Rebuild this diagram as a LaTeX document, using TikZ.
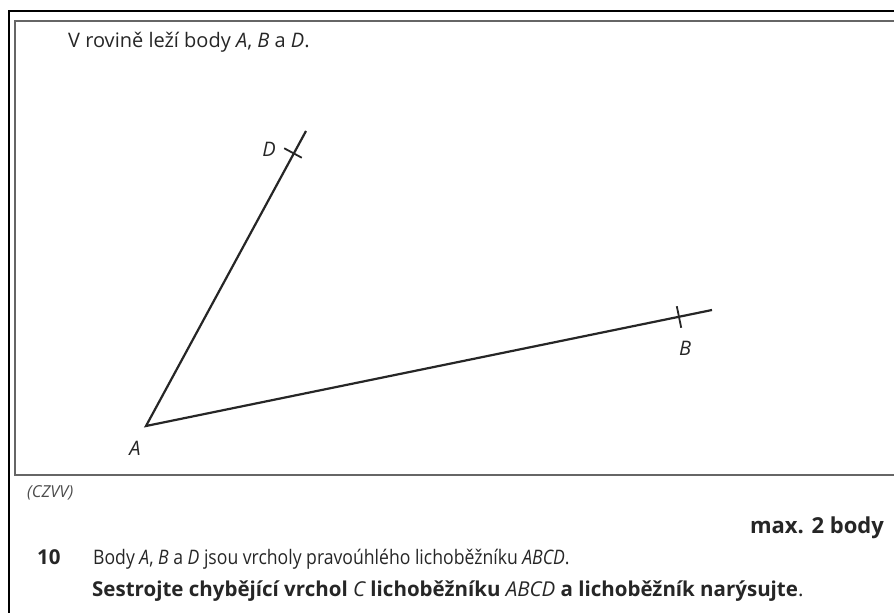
\documentclass[tikz,border=0pt]{standalone}
\usepackage{fontspec}
\setmainfont{Open Sans}
\newfontfamily\condfont[FakeStretch=0.88]{Open Sans}
\usetikzlibrary{calc}
\begin{document}
\begin{tikzpicture}[x=1pt, y=-1pt,
  txt/.style={inner sep=0pt, text=ink, font=\fontsize{20}{22}\selectfont},
  bold/.style={txt, font=\fontsize{20.5}{22}\selectfont\bfseries},
  cond/.style={txt, font=\fontsize{20}{22}\selectfont\condfont},
  lbl/.style={inner sep=0pt, text=ink, font=\fontsize{20}{22}\selectfont\itshape},
  seg/.style={ink, line width=2.2pt},
  tick/.style={ink, line width=1.8pt}]

\colorlet{ink}{black!85}

\useasboundingbox (0,0) rectangle (894,613);
\fill[white] (0,0) rectangle (894,613);

%% frames
\draw[black, line width=1.8pt] (894,11) -- (9,11) -- (9,613);
\draw[black!60, line width=2.2pt] (894,21) -- (15,21) -- (15,475) -- (894,475);

%% points A, B, D
\coordinate (A) at (146,426);
\coordinate (D) at (293,153);
\coordinate (B) at (679,317);
\coordinate (Dend) at (306,131);
\coordinate (Bend) at (712,310);

\draw[seg] (Dend) -- (A) -- (Bend);
\draw[tick] ($(D)!10pt!90:(A)$) -- ($(D)!10pt!-90:(A)$);
\draw[tick] ($(B)!11pt!90:(A)$) -- ($(B)!11pt!-90:(A)$);

\node[lbl] (labD) at (269,149) {D};
\node[lbl] (labB) at (685,348) {B};
\node[lbl] (labA) at (135,448) {A};

%% texts
\node[txt, anchor=base west] (intro) at (68,47)
  {V rovině leží body \textit{A}, \textit{B} a \textit{D}.};
\node[txt, anchor=base west, font=\fontsize{16.5}{18}\selectfont\itshape, text=black!70]
  (src) at (27,497) {(CZVV)};
\node[bold, anchor=base east, font=\fontsize{22}{24}\selectfont\bfseries] (pts) at (884,533) {max. 2 body};
\node[bold, anchor=base west] (num) at (37,564) {10};
\node[cond, anchor=base west] (task) at (93,564)
  {Body \textit{A}, \textit{B} a \textit{D} jsou vrcholy pravoúhlého lichoběžníku \textit{ABCD}.};
\node[bold, anchor=base west] (instr) at (92,596)
  {Sestrojte chybějící vrchol {\mdseries\itshape C} lichoběžníku {\mdseries\itshape ABCD} a lichoběžník narýsujte{\mdseries .}};

\end{tikzpicture}
\end{document}
